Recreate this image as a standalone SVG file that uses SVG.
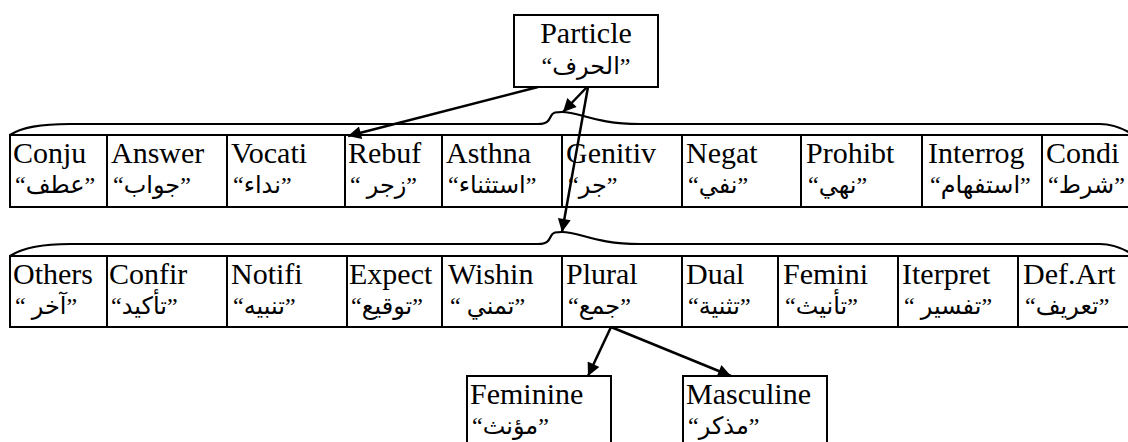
<svg xmlns="http://www.w3.org/2000/svg" width="1128" height="442" viewBox="0 0 1128 442">
<style>
.box{fill:#fff;stroke:#000;stroke-width:2}
.cell{fill:none;stroke:#000;stroke-width:2}
.en{font-family:"Liberation Serif","Times New Roman",serif;font-size:30px;fill:#000}
.ar{font-family:"Liberation Serif","DejaVu Sans",serif;font-size:24px;fill:#000}
.br{fill:none;stroke:#000;stroke-width:2.2}
.cn{fill:none;stroke:#000;stroke-width:2.5}
</style>
<defs>
<marker id="ah" viewBox="0 0 10 10" refX="10" refY="5" markerUnits="userSpaceOnUse" markerWidth="17" markerHeight="13" orient="auto">
<path d="M0,0 L10,5 L0,10 z" fill="#000"/>
</marker>
</defs>
<rect width="1128" height="442" fill="#fff"/>

<g id="particle">
<rect class="box" x="514" y="15" width="144" height="72"/>
<text class="en" x="586" y="43" text-anchor="middle">Particle</text>
<text class="ar" x="586" y="74" text-anchor="middle">“الحرف”</text>
</g>

<g id="braces">
<path class="br" d="M10,135 C22,127 40,124 70,124 L538,124 C548,124 549,120 551,116 C553,112 556,112 562,112 C580,112 595,124 640,124 L1100,124 C1112,124 1120,127 1130,133"/>
<path class="br" d="M10,256 C22,248 40,244 70,244 L538,244 C548,244 549,240 551,236 C553,232 556,232 562,232 C580,232 595,244 640,244 L1100,244 C1112,244 1120,247 1130,253"/>
</g>

<g id="row1">
<rect class="cell" x="10" y="135" width="1130" height="72"/>
<g id="conju"><line class="cell" x1="107" y1="135" x2="107" y2="207"/><text class="en" x="13" y="163">Conju</text><text class="ar" x="15" y="193">“عطف”</text></g>
<g id="answer"><line class="cell" x1="227" y1="135" x2="227" y2="207"/><text class="en" x="111" y="163">Answer</text><text class="ar" x="113" y="193">“جواب”</text></g>
<g id="vocati"><line class="cell" x1="345" y1="135" x2="345" y2="207"/><text class="en" x="231" y="163">Vocati</text><text class="ar" x="233" y="193">“نداء”</text></g>
<g id="rebuf"><line class="cell" x1="442" y1="135" x2="442" y2="207"/><text class="en" x="348" y="163">Rebuf</text><text class="ar" x="350" y="193">“ زجر”</text></g>
<g id="asthna"><line class="cell" x1="562" y1="135" x2="562" y2="207"/><text class="en" x="446" y="163">Asthna</text><text class="ar" x="448" y="193">“استثناء”</text></g>
<g id="genitiv"><line class="cell" x1="682" y1="135" x2="682" y2="207"/><text class="en" x="566" y="163">Genitiv</text><text class="ar" x="568" y="193">“جر”</text></g>
<g id="negat"><line class="cell" x1="801" y1="135" x2="801" y2="207"/><text class="en" x="686" y="163">Negat</text><text class="ar" x="688" y="193">“نفي”</text></g>
<g id="prohibt"><line class="cell" x1="922" y1="135" x2="922" y2="207"/><text class="en" x="806" y="163">Prohibt</text><text class="ar" x="808" y="193">“نهي”</text></g>
<g id="interrog"><line class="cell" x1="1042" y1="135" x2="1042" y2="207"/><text class="en" x="928" y="163">Interrog</text><text class="ar" x="930" y="193">“استفهام”</text></g>
<g id="condi"><text class="en" x="1046" y="163">Condi</text><text class="ar" x="1048" y="193">“شرط”</text></g>
</g>

<g id="row2">
<rect class="cell" x="10" y="256" width="1130" height="71"/>
<g id="others"><line class="cell" x1="107" y1="256" x2="107" y2="327"/><text class="en" x="13" y="284">Others</text><text class="ar" x="15" y="314">“ آخر”</text></g>
<g id="confir"><line class="cell" x1="227" y1="256" x2="227" y2="327"/><text class="en" x="109" y="284">Confir</text><text class="ar" x="111" y="314">“تأكيد”</text></g>
<g id="notifi"><line class="cell" x1="347" y1="256" x2="347" y2="327"/><text class="en" x="231" y="284">Notifi</text><text class="ar" x="233" y="314">“تنبيه”</text></g>
<g id="expect"><line class="cell" x1="442" y1="256" x2="442" y2="327"/><text class="en" x="349" y="284">Expect</text><text class="ar" x="351" y="314">“توقيع”</text></g>
<g id="wishin"><line class="cell" x1="562" y1="256" x2="562" y2="327"/><text class="en" x="448" y="284">Wishin</text><text class="ar" x="450" y="314">“ تمني”</text></g>
<g id="plural"><line class="cell" x1="682" y1="256" x2="682" y2="327"/><text class="en" x="566" y="284">Plural</text><text class="ar" x="568" y="314">“جمع”</text></g>
<g id="dual"><line class="cell" x1="778" y1="256" x2="778" y2="327"/><text class="en" x="686" y="284">Dual</text><text class="ar" x="688" y="314">“تثنية”</text></g>
<g id="femini"><line class="cell" x1="898" y1="256" x2="898" y2="327"/><text class="en" x="783" y="284">Femini</text><text class="ar" x="785" y="314">“تأنيث”</text></g>
<g id="iterpret"><line class="cell" x1="1018" y1="256" x2="1018" y2="327"/><text class="en" x="902" y="284">Iterpret</text><text class="ar" x="904" y="314">“ تفسير”</text></g>
<g id="defart"><text class="en" x="1023" y="284">Def.Art</text><text class="ar" x="1025" y="314">“تعريف”</text></g>
</g>

<g id="feminine">
<rect class="box" x="467" y="376" width="144" height="72"/>
<text class="en" x="470" y="404">Feminine</text>
<text class="ar" x="472" y="434">“مؤنث”</text>
</g>
<g id="masculine">
<rect class="box" x="683" y="376" width="144" height="72"/>
<text class="en" x="686" y="404">Masculine</text>
<text class="ar" x="688" y="434">“مذكر”</text>
</g>

<g id="connectors">
<line class="cn" x1="538" y1="87" x2="348" y2="136" marker-end="url(#ah)"/>
<line class="cn" x1="587" y1="87" x2="563" y2="112" marker-end="url(#ah)"/>
<line class="cn" x1="588" y1="87" x2="562" y2="232" marker-end="url(#ah)"/>
<line class="cn" x1="611" y1="327" x2="588" y2="376" marker-end="url(#ah)"/>
<line class="cn" x1="611" y1="327" x2="731" y2="376" marker-end="url(#ah)"/>
</g>
</svg>
